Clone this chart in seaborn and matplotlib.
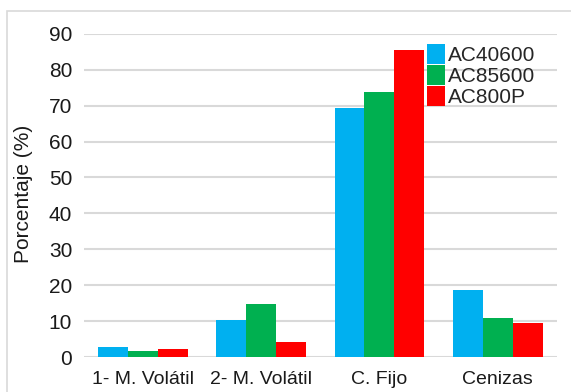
import matplotlib
matplotlib.use("Agg")
import matplotlib.pyplot as plt
from matplotlib.patches import Rectangle
import seaborn as sns
import pandas as pd

categories = ["1- M. Volátil", "2- M. Volátil", "C. Fijo", "Cenizas"]
series_names = ["AC40600", "AC85600", "AC800P"]
ac40600 = [2.9, 10.2, 69.3, 18.7]
ac85600 = [1.6, 14.8, 73.9, 11.0]
ac800p = [2.3, 4.3, 85.4, 9.4]
y_ticks = [0, 10, 20, 30, 40, 50, 60, 70, 80, 90]
colors = ["#00B0F0", "#00B050", "#FF0000"]

rows = []
for name, vals in zip(series_names, [ac40600, ac85600, ac800p]):
    for cat, v in zip(categories, vals):
        rows.append({"Categoria": cat, "Serie": name, "Valor": v})
df = pd.DataFrame(rows)

sns.set_theme(style="white")
plt.rcParams["font.family"] = ["Liberation Sans", "DejaVu Sans"]

fig = plt.figure(figsize=(5.71, 3.92), dpi=100)
ax = fig.add_axes([0.147, 0.089, 0.828, 0.825])

# light chart-area border
fig.patches.append(Rectangle((7 / 571, -0.1), 1.2, 1 - 11 / 392 + 0.1,
                             transform=fig.transFigure, fill=False,
                             edgecolor="#D9D9D9", linewidth=1.2))

sns.barplot(data=df, x="Categoria", y="Valor", hue="Serie", order=categories,
            hue_order=series_names, palette=colors, width=0.76,
            saturation=1, ax=ax, legend=False, zorder=3, linewidth=0)

ax.set_xlim(-0.5, 3.5)
ax.set_ylim(0, 90)
ax.set_yticks(y_ticks)
ax.set_yticklabels([str(t) for t in y_ticks], fontsize=15, color="#1a1a1a")
ax.tick_params(axis="x", labelsize=14, colors="#1a1a1a", length=0, pad=10)
ax.tick_params(axis="y", length=0, pad=8.5)
ax.grid(axis="y", color="#D9D9D9", linewidth=1.5, zorder=0)
ax.set_axisbelow(True)
for s in ax.spines.values():
    s.set_visible(False)
ax.set_xlabel("")
ax.set_ylabel("Porcentaje (%)", fontsize=15, color="#1a1a1a")
ax.yaxis.set_label_coords(-0.108, 0.506)

handles = [Rectangle((0, 0), 1, 1, facecolor=c, edgecolor="none") for c in colors]
ax.legend(handles, series_names, loc="upper left",
          bbox_to_anchor=(427 / 571, 1 - 44 / 392), bbox_transform=fig.transFigure,
          frameon=False, fontsize=15, handlelength=0.85, handleheight=1.1,
          labelspacing=0.0, handletextpad=0.15, borderpad=0, borderaxespad=0)

fig.savefig("out.png", dpi=100)
